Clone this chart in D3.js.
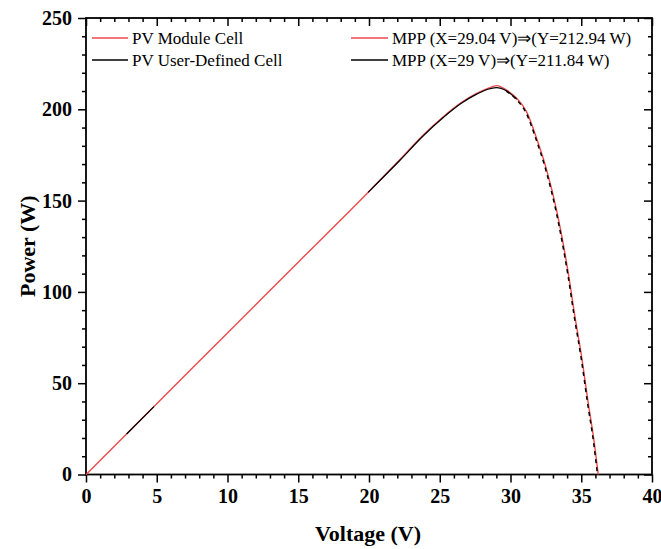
<!DOCTYPE html>
<html>
<head>
<meta charset="utf-8">
<script src="https://cdn.jsdelivr.net/npm/d3@7"></script>
<style>
  html, body { margin: 0; padding: 0; background: #fff; }
  svg { display: block; }
  text { font-family: "Liberation Serif", "Times New Roman", serif; fill: #000; }
</style>
</head>
<body>
<svg id="chart" width="661" height="549"></svg>
<script>
// ---- data ----
const xTicks = [0, 5, 10, 15, 20, 25, 30, 35, 40];
const yTicks = [0, 50, 100, 150, 200, 250];

// PV Module Cell (red)
const moduleV = [0, 5, 10, 15, 20, 22.19, 23.84, 25.25, 26.55, 27.61, 28.4, 29.04, 29.73, 30.44, 31.14, 31.85, 32.56, 33.26, 34.09, 34.56, 35.03, 35.5, 35.9, 36.2];
const moduleP = [0, 38.8, 77.5, 116.3, 155, 172.5, 185.9, 195.9, 203.8, 208.7, 211.5, 212.94, 210.5, 206, 198.6, 184, 166.7, 144.7, 110, 86.2, 64.3, 38.8, 18.6, 0];

// PV User-Defined Cell (black) — null marks a gap in the visible trace
const userV = [2.87, 4.8, null, 19.93, 22.19, 23.84, 25.25, 26.55, 27.61, 28.4, 29.0, 29.73, 30.44, 31.14, 31.85, 32.56, 33.26, 34.09, 34.56, 35.03, 35.5, 35.9, 36.18];
const userP = [22.2, 37.2, null, 154.5, 172.1, 185.5, 195.5, 203.4, 208.3, 211.0, 211.84, 210.0, 205.5, 198.0, 183.4, 166.0, 144.0, 109.4, 85.6, 63.7, 38.2, 18.0, 0];

const legendLabels = ["PV Module Cell", "PV User-Defined Cell"];
const mppLabels = ["MPP (X=29.04 V)\u21D2(Y=212.94 W)", "MPP (X=29 V)\u21D2(Y=211.84 W)"];
const seriesColors = ["#f0494b", "#000000"];

// ---- layout ----
const L = 86, R = 652, T = 18, B = 474.5;
const svg = d3.select("#chart");
const x = d3.scaleLinear().domain([0, 40]).range([L, R]);
const y = d3.scaleLinear().domain([0, 250]).range([B, T]);

const minorX = d3.range(0, 41, 1).filter(v => v % 5 !== 0);
const minorY = d3.range(0, 251, 10).filter(v => v % 50 !== 0);

function styleAxis(g, labels) {
  g.select(".domain").remove();
  g.selectAll(".tick line").attr("stroke", "#000").attr("stroke-width", 1.5);
  if (!labels) g.selectAll(".tick text").remove();
  else g.selectAll(".tick text").attr("font-size", 20).attr("font-weight", "bold")
        .style("font-family", "'Liberation Serif', serif");
}

// bottom axis (outward ticks)
svg.append("g").attr("transform", `translate(0,${B})`)
  .call(d3.axisBottom(x).tickValues(xTicks).tickSize(8).tickPadding(6).tickFormat(d3.format("d")))
  .call(g => styleAxis(g, true));
svg.append("g").attr("transform", `translate(0,${B})`)
  .call(d3.axisBottom(x).tickValues(minorX).tickSize(4).tickFormat(""))
  .call(g => styleAxis(g, false));
// top axis (inward ticks)
svg.append("g").attr("transform", `translate(0,${T})`)
  .call(d3.axisBottom(x).tickValues(xTicks).tickSize(8).tickFormat(""))
  .call(g => styleAxis(g, false));
svg.append("g").attr("transform", `translate(0,${T})`)
  .call(d3.axisBottom(x).tickValues(minorX).tickSize(4).tickFormat(""))
  .call(g => styleAxis(g, false));
// left axis (outward ticks)
svg.append("g").attr("transform", `translate(${L},0)`)
  .call(d3.axisLeft(y).tickValues(yTicks).tickSize(8).tickPadding(6).tickFormat(d3.format("d")))
  .call(g => styleAxis(g, true));
svg.append("g").attr("transform", `translate(${L},0)`)
  .call(d3.axisLeft(y).tickValues(minorY).tickSize(4).tickFormat(""))
  .call(g => styleAxis(g, false));
// right axis (inward ticks)
svg.append("g").attr("transform", `translate(${R},0)`)
  .call(d3.axisLeft(y).tickValues(yTicks).tickSize(8).tickFormat(""))
  .call(g => styleAxis(g, false));
svg.append("g").attr("transform", `translate(${R},0)`)
  .call(d3.axisLeft(y).tickValues(minorY).tickSize(4).tickFormat(""))
  .call(g => styleAxis(g, false));

// frame
svg.append("rect").attr("x", L).attr("y", T).attr("width", R - L).attr("height", B - T)
  .attr("fill", "none").attr("stroke", "#000").attr("stroke-width", 1.8);

// ---- lines ----
const moduleData = moduleV.map((v, i) => ({ v, p: moduleP[i] }));
const userData = userV.map((v, i) => ({ v, p: userP[i] }));

const line = d3.line()
  .defined(d => d.v !== null && d.p !== null)
  .x(d => x(d.v)).y(d => y(d.p))
  .curve(d3.curveMonotoneX);

// red drawn slightly wider underneath so its edge shows around the black trace
svg.append("path").datum(moduleData)
  .attr("d", line).attr("fill", "none")
  .attr("stroke", seriesColors[0]).attr("stroke-width", 1.4);

const userSolid = userData.map(d => (d.v !== null && d.v <= 30.5) ? d : { v: null, p: null });
const userDashed = userData.map(d => (d.v !== null && d.v >= 29.73) ? d : { v: null, p: null });
svg.append("path").datum(userSolid)
  .attr("d", line).attr("fill", "none")
  .attr("stroke", seriesColors[1]).attr("stroke-width", 1.2);
svg.append("path").datum(userDashed)
  .attr("d", line).attr("fill", "none")
  .attr("stroke", seriesColors[1]).attr("stroke-width", 1.5)
  .attr("stroke-dasharray", "4,4")
  .attr("transform", "translate(-0.5,0)");

// ---- legend ----
const legRows = [38, 60];
legendLabels.forEach((t, i) => {
  svg.append("line").attr("x1", 92).attr("x2", 128).attr("y1", legRows[i]).attr("y2", legRows[i])
    .attr("stroke", seriesColors[i]).attr("stroke-width", 1.5);
  svg.append("text").attr("x", 132).attr("y", legRows[i] + 6)
    .attr("font-size", 17).text(t);
});
mppLabels.forEach((t, i) => {
  svg.append("line").attr("x1", 351).attr("x2", 388).attr("y1", legRows[i]).attr("y2", legRows[i])
    .attr("stroke", seriesColors[i]).attr("stroke-width", 1.5);
  svg.append("text").attr("x", 392).attr("y", legRows[i] + 6)
    .attr("font-size", 17).text(t);
});

// ---- axis titles ----
svg.append("text").attr("x", (L + R) / 2 - 1).attr("y", 541)
  .attr("text-anchor", "middle").attr("font-size", 22).attr("font-weight", "bold")
  .text("Voltage (V)");
svg.append("text").attr("transform", `translate(35,${(T + B) / 2}) rotate(-90)`)
  .attr("text-anchor", "middle").attr("font-size", 22).attr("font-weight", "bold")
  .text("Power (W)");
</script>
</body>
</html>
